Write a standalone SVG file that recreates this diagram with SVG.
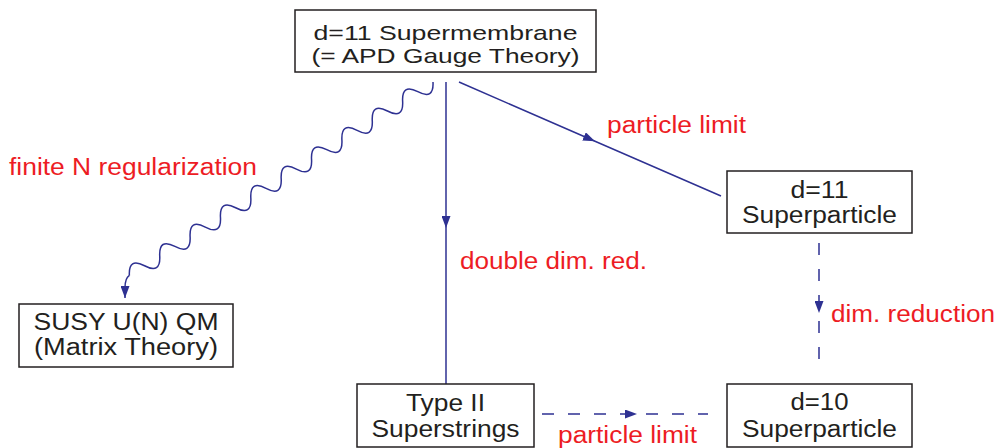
<svg xmlns="http://www.w3.org/2000/svg" width="997" height="448" viewBox="0 0 997 448">
<style>
.box{fill:#fff;stroke:#231f20;stroke-width:1.5}
.t{font-family:"Liberation Sans",Arial,sans-serif;font-size:23px;fill:#231f20;text-anchor:middle}
.tt{font-size:21px}
.lbl{font-family:"Liberation Sans",Arial,sans-serif;font-size:23px;fill:#ed1c24}
.c{fill:none;stroke:#2e3192;stroke-width:1.5}
.d{stroke-dasharray:12,14}
</style>
<defs>
<marker id="ah" markerUnits="userSpaceOnUse" markerWidth="12" markerHeight="9" viewBox="0 0 12 9" refX="12" refY="4.5" orient="auto">
<path d="M0,0 L12,4.5 L0,9 z" fill="#2e3192"/>
</marker>
</defs>
<g id="connectors">
<g transform="translate(433,82) rotate(147.5)">
<path class="c" d="M0,0 q9,-16 18,0 t18,0 t18,0 t18,0 t18,0 t18,0 t18,0 t18,0 t18,0 t18,0 t18,0 t18,0 t18,0 t18,0 t18,0 t18,0 t18,0 t18,0 t18,0 t18,0"/>
</g>
<path class="c" d="M129.4,275.4 Q125,278 125,288 L125,298" marker-end="url(#ah)"/>
<polyline class="c" points="446,82 446,228 446,385" marker-mid="url(#ah)"/>
<polyline class="c" points="459,82 595,141.2 721,196" marker-mid="url(#ah)"/>
<polyline class="c d" points="819,243 819,313 819,362" marker-mid="url(#ah)"/>
<polyline class="c d" points="542,414 637,414 708,414" marker-mid="url(#ah)"/>
</g>
<g id="supermembrane">
<rect class="box" x="295" y="10" width="301" height="62"/>
<text class="t tt" x="445.5" y="40" textLength="264" lengthAdjust="spacingAndGlyphs">d=11 Supermembrane</text>
<text class="t tt" x="445.5" y="63" textLength="268" lengthAdjust="spacingAndGlyphs">(= APD Gauge Theory)</text>
</g>
<g id="superparticle11">
<rect class="box" x="727" y="171" width="185" height="62"/>
<text class="t" x="819.5" y="198" textLength="58" lengthAdjust="spacingAndGlyphs">d=11</text>
<text class="t" x="819.5" y="223" textLength="155" lengthAdjust="spacingAndGlyphs">Superparticle</text>
</g>
<g id="superparticle10">
<rect class="box" x="727" y="384" width="185" height="63"/>
<text class="t" x="819.5" y="410" textLength="58" lengthAdjust="spacingAndGlyphs">d=10</text>
<text class="t" x="819.5" y="437" textLength="155" lengthAdjust="spacingAndGlyphs">Superparticle</text>
</g>
<g id="superstrings">
<rect class="box" x="357" y="384" width="177" height="63"/>
<text class="t" x="445.5" y="411" textLength="79" lengthAdjust="spacingAndGlyphs">Type II</text>
<text class="t" x="445.5" y="437" textLength="148" lengthAdjust="spacingAndGlyphs">Superstrings</text>
</g>
<g id="matrix">
<rect class="box" x="19" y="304" width="214" height="63"/>
<text class="t" x="126" y="330" textLength="185" lengthAdjust="spacingAndGlyphs">SUSY U(N) QM</text>
<text class="t" x="126" y="355" textLength="184" lengthAdjust="spacingAndGlyphs">(Matrix Theory)</text>
</g>
<g id="labels">
<text class="lbl" x="9" y="175" textLength="248" lengthAdjust="spacingAndGlyphs">finite N regularization</text>
<text class="lbl" x="607" y="133" textLength="139" lengthAdjust="spacingAndGlyphs">particle limit</text>
<text class="lbl" x="460" y="269" textLength="187" lengthAdjust="spacingAndGlyphs">double dim. red.</text>
<text class="lbl" x="831" y="322" textLength="164" lengthAdjust="spacingAndGlyphs">dim. reduction</text>
<text class="lbl" x="558" y="443" textLength="139" lengthAdjust="spacingAndGlyphs">particle limit</text>
</g>
</svg>
